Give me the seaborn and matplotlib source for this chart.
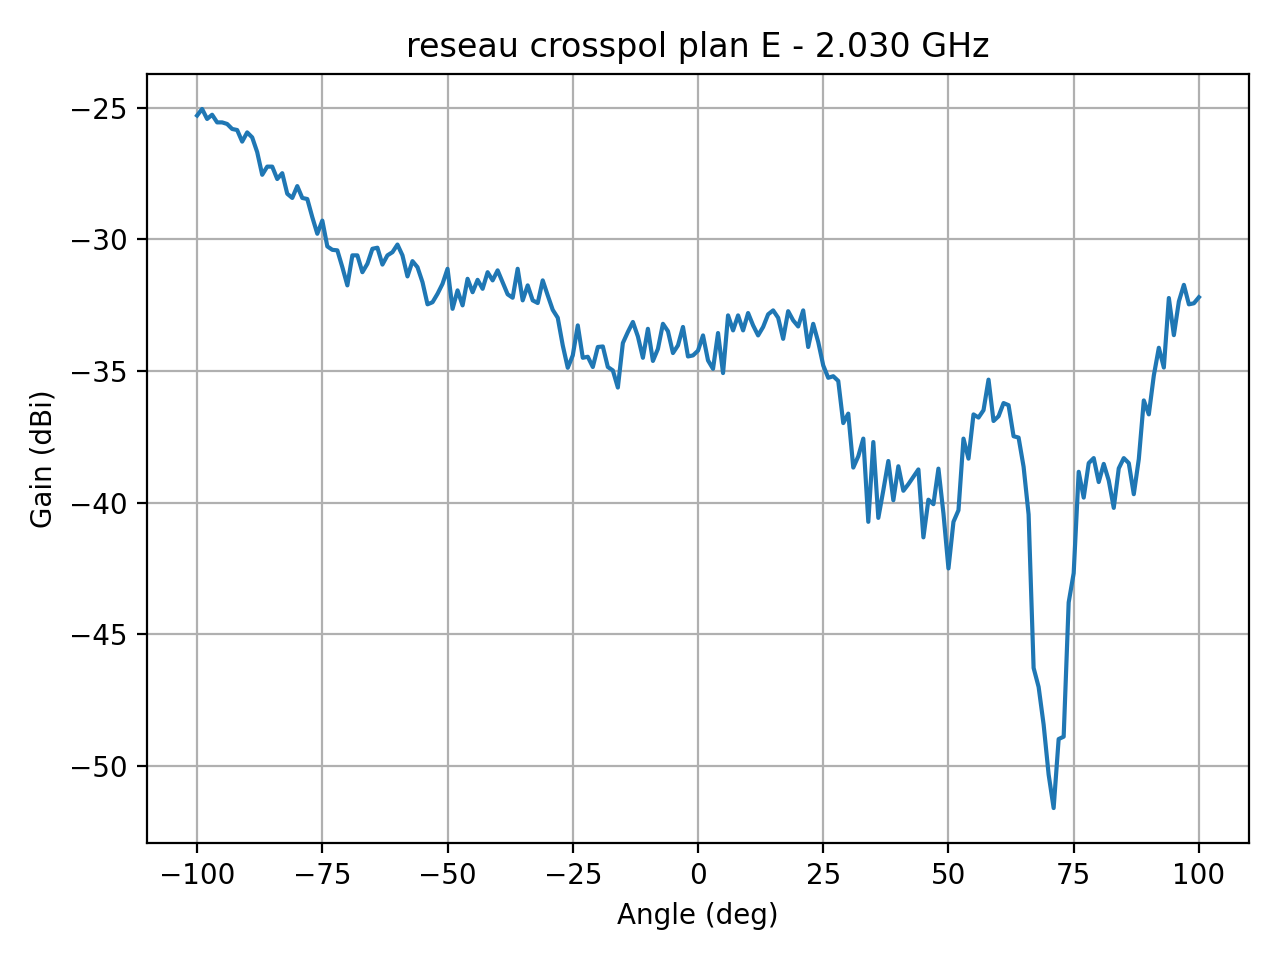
import numpy as np
import pandas as pd
import matplotlib
matplotlib.use("Agg")
import matplotlib.pyplot as plt
import seaborn as sns

angles = list(range(-100, 101))
gain = [
    -25.30, -25.05, -25.43, -25.27, -25.56, -25.56, -25.62, -25.81, -25.85, -26.29,
    -25.94, -26.13, -26.69, -27.55, -27.24, -27.24, -27.71, -27.49, -28.27, -28.43,
    -27.98, -28.43, -28.47, -29.16, -29.79, -29.29, -30.27, -30.40, -30.42, -31.06,
    -31.75, -30.61, -30.61, -31.25, -30.93, -30.36, -30.32, -30.96, -30.61, -30.49,
    -30.20, -30.61, -31.41, -30.83, -31.06, -31.63, -32.47, -32.39, -32.07, -31.69,
    -31.12, -32.64, -31.94, -32.51, -31.50, -32.01, -31.54, -31.88, -31.25, -31.56,
    -31.18, -31.63, -32.09, -32.22, -31.12, -32.32, -31.75, -32.32, -32.42, -31.56,
    -32.13, -32.68, -32.98, -34.03, -34.88, -34.41, -33.27, -34.50, -34.46, -34.85,
    -34.09, -34.07, -34.85, -34.98, -35.63, -33.94, -33.52, -33.14, -33.69, -34.50,
    -33.40, -34.62, -34.16, -33.21, -33.49, -34.32, -34.03, -33.33, -34.45, -34.41,
    -34.23, -33.65, -34.60, -34.92, -33.56, -35.08, -32.89, -33.46, -32.89, -33.46,
    -32.80, -33.27, -33.65, -33.33, -32.85, -32.70, -32.98, -33.78, -32.73, -33.08,
    -33.31, -32.70, -34.09, -33.21, -33.90, -34.79, -35.26, -35.20, -35.38, -36.98,
    -36.62, -38.67, -38.24, -37.57, -40.73, -37.70, -40.58, -39.53, -38.42, -39.91,
    -38.62, -39.55, -39.30, -39.02, -38.74, -41.32, -39.89, -40.06, -38.71, -40.41,
    -42.50, -40.73, -40.29, -37.57, -38.33, -36.65, -36.77, -36.49, -35.33, -36.90,
    -36.72, -36.22, -36.30, -37.48, -37.53, -38.64, -40.45, -46.28, -47.00, -48.43,
    -50.33, -51.60, -48.98, -48.89, -43.79, -42.68, -38.83, -39.81, -38.50, -38.31,
    -39.22, -38.53, -39.16, -40.20, -38.70, -38.31, -38.50, -39.68, -38.35, -36.12,
    -36.65, -35.17, -34.12, -34.87, -32.23, -33.64, -32.36, -31.73, -32.47, -32.43,
    -32.20,
]

title = "reseau crosspol plan E - 2.030 GHz"
xlabel = "Angle (deg)"
ylabel = "Gain (dBi)"

df = pd.DataFrame({"angle": angles, "gain": gain})

fig, ax = plt.subplots(figsize=(6.4, 4.8), dpi=200)
sns.lineplot(data=df, x="angle", y="gain", ax=ax, color="#1f77b4", linewidth=1.5)
ax.grid(True, color="#b0b0b0", linewidth=0.8)
ax.set_title(title)
ax.set_xlabel(xlabel)
ax.set_ylabel(ylabel)
fig.subplots_adjust(left=147/1280, right=1249/1280, top=1-74/960, bottom=1-843/960)
fig.savefig("out.png", dpi=200)
